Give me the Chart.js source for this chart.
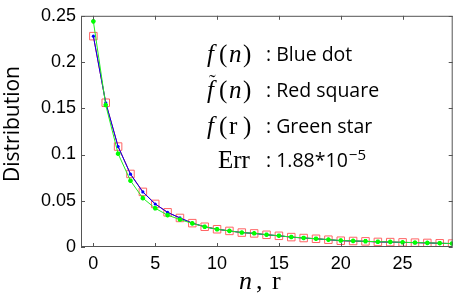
<!DOCTYPE html>
<html>
<head>
<meta charset="utf-8">
<script src="https://cdn.jsdelivr.net/npm/chart.js@4"></script>
<style>
html,body{margin:0;padding:0;background:#fff;}
#c{display:block;}
</style>
</head>
<body>
<canvas id="c" width="459" height="294"></canvas>
<script>
const nValues = [0,1,2,3,4,5,6,7,8,9,10,11,12,13,14,15,16,17,18,19,20,21,22,23,24,25,26,27,28,29];
const blueDot = [0.228,0.156,0.1086,0.0788,0.0595,0.0465,0.0374,0.0314,0.0258,0.0219,0.0192,0.0174,0.0156,0.0147,0.0132,0.0121,0.0107,0.0097,0.0089,0.0079,0.0068,0.0065,0.0061,0.0055,0.0053,0.0050,0.0047,0.0044,0.0040,0.0037];
const redSquare = [0.228,0.156,0.1086,0.0790,0.0596,0.0466,0.0375,0.0314,0.0258,0.0219,0.0192,0.0174,0.0156,0.0147,0.0132,0.0121,0.0107,0.0097,0.0089,0.0079,0.0068,0.0065,0.0061,0.0055,0.0053,0.0050,0.0047,0.0044,0.0040,0.0037];
const greenStar = [0.244,0.1535,0.1009,0.0717,0.0528,0.0419,0.0345,0.0297,0.0255,0.0219,0.0192,0.0174,0.0156,0.0148,0.0133,0.0122,0.0108,0.0098,0.0090,0.0080,0.0070,0.0066,0.0062,0.0057,0.0055,0.0051,0.0048,0.0045,0.0041,0.0038];
const xTicks = [0,5,10,15,20,25];
const yTicks = [0,0.05,0.1,0.15,0.2,0.25];
const yTickLabels = ['0','0.05','0.1','0.15','0.2','0.25'];
const errText = '1.88*10';
const errExp = '-5';

const pts = arr => nValues.map((x,i)=>({x:x,y:arr[i]}));

const decor = {
  id:'decor',
  afterDraw(chart){
    const ctx = chart.ctx, a = chart.chartArea;
    const xs = chart.scales.x, ys = chart.scales.y;
    ctx.save();
    ctx.strokeStyle = '#555';
    ctx.lineWidth = 1;
    ctx.strokeRect(a.left+0.5, a.top+0.5, a.right-a.left-1, a.bottom-a.top-1);
    ctx.beginPath();
    xTicks.forEach(v=>{
      const px = Math.round(xs.getPixelForValue(v))+0.5;
      ctx.moveTo(px,a.bottom); ctx.lineTo(px,a.bottom-4);
      ctx.moveTo(px,a.top); ctx.lineTo(px,a.top+4);
    });
    yTicks.forEach(v=>{
      const py = Math.round(ys.getPixelForValue(v))+0.5;
      ctx.moveTo(a.left,py); ctx.lineTo(a.left+4,py);
      ctx.moveTo(a.right,py); ctx.lineTo(a.right-4,py);
    });
    ctx.stroke();

    ctx.fillStyle = '#000';
    // y title
    ctx.save();
    ctx.translate(13,124);
    ctx.rotate(-Math.PI/2);
    ctx.font = '21px "Open Sans"';
    ctx.textAlign='center'; ctx.textBaseline='middle';
    ctx.fillText('Distribution',0,0);
    ctx.restore();

    // x title  n, r
    ctx.textBaseline='alphabetic'; ctx.textAlign='left';
    ctx.font = 'italic 26px "Liberation Serif"';
    ctx.fillText('n',239,289);
    ctx.font = '26px "Liberation Serif"';
    ctx.fillText(',',256,289);
    ctx.fillText('r',272,289);

    // annotation block
    const rows = [
      {y:62, arg:'n', argItalic:true, tilde:false, label:': Blue dot'},
      {y:98, arg:'n', argItalic:true, tilde:true, label:': Red square'},
      {y:134, arg:'r', argItalic:false, tilde:false, label:': Green star'}
    ];
    rows.forEach(r=>{
      ctx.font = 'italic 25px "Liberation Serif"';
      ctx.fillText('f',207,r.y);
      if(r.tilde){
        ctx.font = '20px "Liberation Serif"';
        ctx.fillText('\u02DC',209,r.y-9);
      }
      ctx.font = '25px "Liberation Serif"';
      ctx.fillText('(',219,r.y);
      ctx.font = (r.argItalic?'italic ':'')+'25px "Liberation Serif"';
      ctx.fillText(r.arg,229,r.y);
      ctx.font = '25px "Liberation Serif"';
      ctx.fillText(')',243,r.y);
      ctx.font = '19.5px "Open Sans"';
      ctx.fillText(r.label,266,r.y-1);
    });
    ctx.font = '25px "Liberation Serif"';
    ctx.fillText('Err',218,168);
    ctx.font = '19.5px "Open Sans"';
    ctx.fillText(': '+errText,266,167);
    const w = ctx.measureText(': '+errText).width;
    ctx.font = '15px "Open Sans"';
    ctx.fillText(errExp.replace('-','\u2212'),266+w+1,160);
    ctx.restore();
  }
};

new Chart(document.getElementById('c'),{
  type:'line',
  data:{datasets:[
    {label:'f(r)', data:pts(greenStar), order:0, borderColor:'#22ee22', borderWidth:1,
     pointStyle:'star', pointRadius:2.3, pointBorderColor:'#00ff00', pointBackgroundColor:'#00ff00', pointBorderWidth:1.5},
    {label:'f(n)', data:pts(blueDot), order:1, borderColor:'#0000ff', borderWidth:1,
     pointStyle:'circle', pointRadius:1.6, pointBorderColor:'#0000ff', pointBackgroundColor:'#0000ff', pointBorderWidth:0},
    {label:'f~(n)', data:pts(redSquare), order:2, borderColor:'#ff0000', borderWidth:1,
     pointStyle:'rect', pointRadius:5.3, pointBorderColor:'#ff6464', pointBackgroundColor:'rgba(0,0,0,0)', pointBorderWidth:1}
  ]},
  options:{
    responsive:false, animation:false, devicePixelRatio:1,
    layout:{padding:{top:10,right:6,left:0,bottom:0}},
    plugins:{legend:{display:false}, tooltip:{enabled:false}},
    elements:{line:{tension:0}},
    scales:{
      x:{type:'linear', min:-1, max:29.05,
        afterFit:s=>{s.height=47;},
        afterBuildTicks:s=>{s.ticks=xTicks.map(v=>({value:v}));},
        grid:{display:false, drawTicks:false}, border:{display:false},
        ticks:{color:'#000', font:{family:'"Liberation Sans"', size:18}, padding:6, maxRotation:0, autoSkip:false}},
      y:{type:'linear', min:0, max:0.25,
        afterFit:s=>{s.width=81;},
        afterBuildTicks:s=>{s.ticks=yTicks.map(v=>({value:v}));},
        grid:{display:false, drawTicks:false}, border:{display:false},
        ticks:{color:'#000', font:{family:'"Liberation Sans"', size:18}, padding:5, autoSkip:false,
          callback:(v)=>{const i=yTicks.findIndex(t=>Math.abs(t-v)<1e-9); return i>=0?yTickLabels[i]:'';}}}
    }
  },
  plugins:[decor]
});
</script>
</body>
</html>
